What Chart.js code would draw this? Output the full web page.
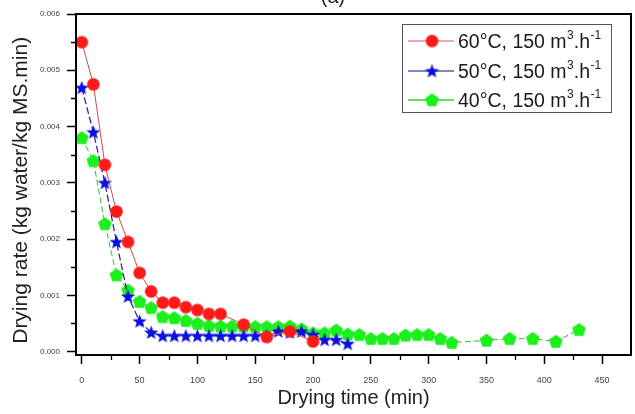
<!DOCTYPE html>
<html><head><meta charset="utf-8">
<script src="https://cdn.jsdelivr.net/npm/chart.js@4.4.1/dist/chart.umd.min.js"></script>
<style>
html,body{margin:0;padding:0;background:#fff;overflow:hidden}
#wrap{position:relative;width:635px;height:414px}
#ttl{position:absolute;left:0;width:666px;top:-15px;text-align:center;font:20px "Liberation Sans",Arial,sans-serif;color:#222}
</style></head><body>
<div id="wrap"><canvas id="c" width="635" height="414" style="width:635px;height:414px"></canvas><div id="ttl">(a)</div></div>
<script>
// ---- data (drying time in min, drying rate in kg water/kg MS.min) ----
const redTime = [0,10,20,30,40,50,60,70,80,90,100,110,120,140,160,180,200];
const redRate = [0.0055,0.00475,0.00332,0.00249,0.00195,0.00140,0.00107,0.00087,0.00087,0.00079,0.00074,0.00067,0.00067,0.00048,0.00026,0.00036,0.00018];

const blueTime = [0,10,20,30,40,50,60,70,80,90,100,110,120,130,140,150,160,170,180,190,200,210,220,230];
const blueRate = [0.00469,0.0039,0.0030,0.00195,0.00098,0.00054,0.00034,0.00028,0.00028,0.00028,0.00028,0.00028,0.00028,0.00028,0.00028,0.00028,0.00028,0.00036,0.00034,0.00036,0.00030,0.00021,0.00021,0.00014];

const greenTime = [0,10,20,30,40,50,60,70,80,90,100,110,120,130,140,150,160,170,180,190,200,210,220,230,240,250,260,270,280,290,300,310,320,350,370,390,410,430];
const greenRate = [0.0038,0.00339,0.00227,0.00136,0.00109,0.00089,0.00078,0.00062,0.00060,0.00055,0.00050,0.00046,0.00045,0.00045,0.00045,0.00044,0.00044,0.00044,0.00045,0.00040,0.00033,0.00033,0.00038,0.00031,0.00030,0.00023,0.00023,0.00023,0.00029,0.00030,0.00030,0.00023,0.00016,0.00020,0.00023,0.00023,0.00018,0.00039];

const seriesLabels = ['60°C, 150 m', '50°C, 150 m', '40°C, 150 m'];
const yTickValuesMinor = [0.0005,0.0015,0.0025,0.0035,0.0045,0.0055];
const xTickValuesMinor = [25,75,125,175,225,275,325,375,425];

const FONT = '"Liberation Sans", Arial, sans-serif';

function makeStar(r, fill){
  const s = Math.ceil(r*2+2), c = document.createElement('canvas');
  c.width = c.height = s; const g = c.getContext('2d');
  g.translate(s/2, s/2+0.5); g.beginPath();
  for(let i=0;i<10;i++){const rr = i%2 ? r*0.42 : r; const a = -Math.PI/2 + i*Math.PI/5; g.lineTo(rr*Math.cos(a), rr*Math.sin(a));}
  g.closePath(); g.fillStyle = fill; g.fill(); return c;
}
function makePoly(n, r, fill){
  const s = Math.ceil(r*2+2), c = document.createElement('canvas');
  c.width = c.height = s; const g = c.getContext('2d');
  g.translate(s/2, s/2+0.5); g.beginPath();
  for(let i=0;i<n;i++){const a = -Math.PI/2 + i*2*Math.PI/n; g.lineTo(r*Math.cos(a), r*Math.sin(a));}
  g.closePath(); g.fillStyle = fill; g.fill(); return c;
}
function makeCircle(r, fill){
  const s = Math.ceil(r*2+2), c = document.createElement('canvas');
  c.width = c.height = s; const g = c.getContext('2d');
  g.beginPath(); g.arc(s/2, s/2, r, 0, Math.PI*2); g.fillStyle = fill; g.fill(); return c;
}
const redMark = makeCircle(6.3, '#ff1a1a');
const blueMark = makeStar(7.5, '#0a10e0');
const greenMark = makePoly(5, 7.2, '#1cf01c');

const toXY = (t, v) => t.map((x, i) => ({x, y: v[i]}));

const datasets = [
  {label: seriesLabels[0], data: toXY(redTime, redRate), borderColor: '#d44848', borderWidth: 1, pointStyle: redMark, legendLine: '#e09090', legendDash: []},
  {label: seriesLabels[1], data: toXY(blueTime, blueRate), borderColor: '#1c1c9c', borderWidth: 1.2, borderDash: [7,3], pointStyle: blueMark, legendLine: '#5a5aa8', legendDash: []},
  {label: seriesLabels[2], data: toXY(greenTime, greenRate), borderColor: '#30c030', borderWidth: 1, borderDash: [6,3], pointStyle: greenMark, legendLine: '#40c840', legendDash: []}
];
datasets.forEach(d => { d.pointRadius = 7; d.pointHoverRadius = 7; d.fill = false; d.tension = 0; });

const framePlugin = {
  id: 'frame',
  afterDraw(ch){
    const {ctx, chartArea: a, scales: {x, y}} = ch;
    ctx.save();
    ctx.strokeStyle = '#000';
    ctx.lineWidth = 1.3;
    ctx.beginPath();
    yTickValuesMinor.forEach(v => { const p = Math.round(y.getPixelForValue(v))+0.5; ctx.moveTo(a.left-5, p); ctx.lineTo(a.left, p); });
    xTickValuesMinor.forEach(v => { const p = Math.round(x.getPixelForValue(v))+0.5; ctx.moveTo(p, a.bottom); ctx.lineTo(p, a.bottom+5); });
    ctx.stroke();
    ctx.lineWidth = 2;
    ctx.strokeRect(a.left, a.top, a.right - a.left, a.bottom - a.top);
    // legend
    const L = 402, T = 24, W = 209, H = 88;
    ctx.fillStyle = '#fff'; ctx.fillRect(L, T, W, H);
    ctx.lineWidth = 1; ctx.strokeStyle = '#555';
    ctx.strokeRect(L+0.5, T+0.5, W, H);
    const rows = [41, 71, 100];
    ch.data.datasets.forEach((d, i) => {
      const yy = rows[i];
      ctx.strokeStyle = d.legendLine; ctx.lineWidth = 1.6; ctx.setLineDash(d.legendDash);
      ctx.beginPath(); ctx.moveTo(408, yy); ctx.lineTo(454, yy); ctx.stroke(); ctx.setLineDash([]);
      const m = d.pointStyle; ctx.drawImage(m, 432 - m.width/2, yy - m.height/2);
      ctx.fillStyle = '#1a1a1a'; ctx.textBaseline = 'alphabetic'; ctx.textAlign = 'left';
      let tx = 458;
      ctx.font = '19.5px ' + FONT; ctx.fillText(d.label, tx, yy + 7); tx += ctx.measureText(d.label).width + 0.5;
      ctx.font = '12px ' + FONT; ctx.fillText('3', tx, yy - 2); tx += ctx.measureText('3').width;
      ctx.font = '19.5px ' + FONT; ctx.fillText('.h', tx, yy + 7); tx += ctx.measureText('.h').width + 0.5;
      ctx.font = '12px ' + FONT; ctx.fillText('-1', tx, yy - 2);
    });
    ctx.restore();
  }
};

new Chart(document.getElementById('c'), {
  type: 'line',
  data: {datasets},
  plugins: [framePlugin],
  options: {
    responsive: false, animation: false, devicePixelRatio: 1,
    layout: {autoPadding: false, padding: {left: 0, right: 4, top: 14, bottom: 0}},
    plugins: {legend: {display: false}, tooltip: {enabled: false}, title: {display: false}},
    scales: {
      x: {
        type: 'linear', min: -5, max: 475,
        afterFit(s){ s.height = 59; s.paddingRight = 0; s.paddingLeft = 0; },
        border: {display: false},
        grid: {drawOnChartArea: false, drawTicks: true, tickLength: 9, tickColor: '#000', tickWidth: 1.5},
        ticks: {stepSize: 50, includeBounds: false, padding: 11, color: '#444', font: {size: 9, family: FONT}, maxRotation: 0},
        title: {display: true, text: 'Drying time (min)', color: '#222', font: {size: 20, family: FONT}, padding: {top: 0, bottom: 4}}
      },
      y: {
        type: 'linear', min: -0.00006, max: 0.006,
        afterFit(s){ s.width = 76; s.paddingTop = 0; s.paddingBottom = 0; },
        border: {display: false},
        grid: {drawOnChartArea: false, drawTicks: true, tickLength: 9, tickColor: '#000', tickWidth: 1.5},
        ticks: {stepSize: 0.001, includeBounds: false, padding: 7, color: '#444', font: {size: 8, family: FONT}, callback: v => Math.abs(v).toFixed(3)},
        title: {display: true, text: 'Drying rate (kg water/kg MS.min)  ', color: '#222', font: {size: 21, family: FONT}, padding: {top: 9, bottom: 0}}
      }
    }
  }
});
</script>
</body></html>
